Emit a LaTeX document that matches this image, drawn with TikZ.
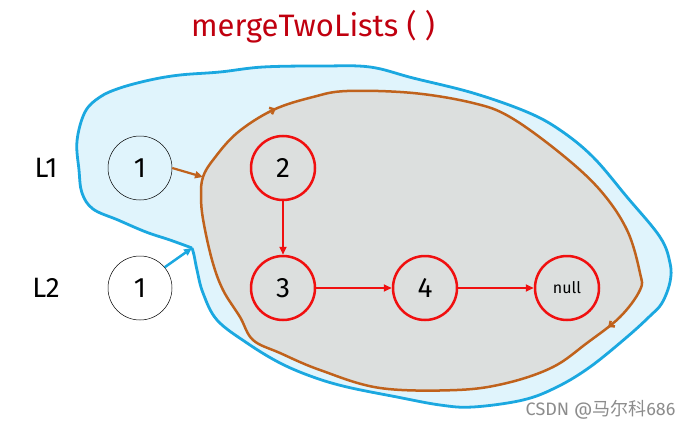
\documentclass[tikz,border=0pt]{standalone}
\usepackage{fontspec}
\setmainfont{Fira Sans}
\newfontfamily\cjkfont{Noto Sans CJK SC}
\usetikzlibrary{arrows.meta,decorations.markings}
\definecolor{bluefill}{HTML}{E0F4FC}
\definecolor{bluestroke}{HTML}{1BA8E0}
\definecolor{brownline}{HTML}{C0621C}
\definecolor{grayfill}{HTML}{DCDFDE}
\definecolor{nodered}{HTML}{F01010}
\definecolor{titlered}{HTML}{C0000F}
\tikzset{
  listnode/.style={circle, minimum size=64pt, inner sep=0pt, font=\fontsize{28}{30}\selectfont},
  rednode/.style={listnode, draw=nodered, line width=2.5pt},
  blacknode/.style={listnode, draw=black, line width=0.5pt},
  redarrow/.style={draw=nodered, line width=1.8pt, -{Triangle[length=8pt,width=7pt]}},
  brownarrow/.style={draw=brownline, line width=2.2pt, -{Triangle[length=8pt,width=7pt]}},
  bluearrow/.style={draw=bluestroke, line width=2.5pt, -{Triangle[length=8pt,width=7pt]}},
  label/.style={font=\fontsize{28}{30}\selectfont, text=black},
}
\begin{document}
\begin{tikzpicture}[x=1pt,y=-1pt]
\useasboundingbox (0,0) rectangle (691,428);
% outer blue blob
\coordinate (notch) at (192,248);
\fill[bluefill] plot[smooth, tension=0.6] coordinates {
 (192,248) (170,240) (146,232) (118,220) (93,209) (82,193) (79,170) (77,141)
 (85,112) (100,97) (120,88) (150,80) (180,75) (220,72) (263,67) (323,66) (370,67)
 (413,78) (473,93) (527,112) (560,130) (593,157) (627,197) (660,237) (670,263)
 (670,282) (662,303) (650,316) (627,337) (590,367) (557,387) (523,400) (473,407)
 (440,405) (397,397) (347,387) (313,377) (280,363) (247,343) (217,320) (203,293)
 (197,270) (194,255) (192,248)} -- cycle;
\draw[bluestroke, line width=2.8pt, line join=round] plot[smooth, tension=0.6] coordinates {
 (192,248) (170,240) (146,232) (118,220) (93,209) (82,193) (79,170) (77,141)
 (85,112) (100,97) (120,88) (150,80) (180,75) (220,72) (263,67) (323,66) (370,67)
 (413,78) (473,93) (527,112) (560,130) (593,157) (627,197) (660,237) (670,263)
 (670,282) (662,303) (650,316) (627,337) (590,367) (557,387) (523,400) (473,407)
 (440,405) (397,397) (347,387) (313,377) (280,363) (247,343) (217,320) (203,293)
 (197,270) (194,255) (192,248)};
% inner brown blob
\coordinate (brownin) at (203,177);
\draw[brownline, line width=2.5pt, fill=grayfill,
  postaction={decorate, decoration={markings,
    mark=at position 0.07 with {\arrow{Straight Barb[length=4pt,width=7pt]}},
    mark=at position 0.51 with {\arrow{Straight Barb[length=4pt,width=7pt]}}}}]
  plot[smooth cycle, tension=0.6] coordinates {
 (203,177) (213,160) (237,133) (273,110) (313,97) (347,91) (413,93) (473,103)
 (510,117) (560,153) (600,190) (627,230) (640,273) (640,290) (620,317) (587,343)
 (553,367) (507,383) (457,390) (380,388) (320,370) (280,353) (253,340) (240,317)
 (223,290) (212,260) (203,219) (201,195)};
% title
\node[font=\fontsize{31}{34}\selectfont, text=titlered] (title) at (313,27) {mergeTwoLists ( )};
% labels
\node[label] (L1) at (46,168) {L1};
\node[label] (L2) at (46,288) {L2};
% nodes
\node[blacknode, fill=bluefill] (a1) at (140,168) {1};
\node[blacknode, fill=white] (b1) at (140,288) {1};
\node[rednode] (n2) at (283,168) {2};
\node[rednode] (n3) at (283,288) {3};
\node[rednode] (n4) at (425,288) {4};
\node[rednode, font=\fontsize{16}{18}\selectfont] (nnull) at (567,288) {null};
% arrows
\draw[redarrow] (n2) -- (n3);
\draw[redarrow] (n3) -- (n4);
\draw[redarrow] (n4) -- (nnull);
\draw[brownarrow] (a1.east) -- (brownin);
\draw[bluearrow] (b1.40) -- (notch);
% watermark
\node[text=black!45, font=\fontsize{18}{20}\selectfont, anchor=east] (wm) at (679,410) {CSDN @\cjkfont 马尔科\rmfamily 686};
\end{tikzpicture}
\end{document}
